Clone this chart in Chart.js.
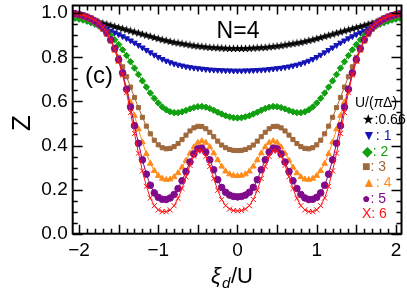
<!DOCTYPE html>
<html>
<head>
<meta charset="utf-8">
<script src="https://cdn.jsdelivr.net/npm/chart.js@4/dist/chart.umd.min.js"></script>
<style>
  body { margin: 0; background: #fff; }
  canvas { display: block; }
</style>
</head>
<body>
<canvas id="chart" width="407" height="293"></canvas>
<script>
// xi_d / U grid
const xs = [-2.1,-2.05,-2,-1.95,-1.9,-1.85,-1.8,-1.75,-1.7,-1.65,-1.6,-1.55,-1.5,-1.45,-1.4,-1.35,-1.3,-1.25,-1.2,-1.15,-1.1,-1.05,-1,-0.95,-0.9,-0.85,-0.8,-0.75,-0.7,-0.65,-0.6,-0.55,-0.5,-0.45,-0.4,-0.35,-0.3,-0.25,-0.2,-0.15,-0.1,-0.05,0,
  0.05,0.1,0.15,0.2,0.25,0.3,0.35,0.4,0.45,0.5,0.55,0.6,0.65,0.7,0.75,0.8,0.85,0.9,0.95,1,1.05,1.1,1.15,1.2,1.25,1.3,1.35,1.4,1.45,1.5,1.55,1.6,1.65,1.7,1.75,1.8,1.85,1.9,1.95,2,2.05,2.1];

// Z for U/(pi Delta) = 0.66, 1, 2, 3, 4, 5, 6
const z066 = [0.995,0.99,0.985,0.98,0.975,0.97,0.965,0.96,0.955,0.95,0.945,0.94,0.935,0.93,0.925,0.92,0.915,0.91,0.905,0.9,0.895,0.89,0.885,0.88,0.876,0.872,0.868,0.865,0.862,0.859,0.856,0.853,0.851,0.849,0.847,0.845,0.844,0.843,0.842,0.841,0.84,0.84,0.84,
  0.84,0.84,0.841,0.842,0.843,0.844,0.845,0.847,0.849,0.851,0.853,0.856,0.859,0.862,0.865,0.868,0.872,0.876,0.88,0.885,0.89,0.895,0.9,0.905,0.91,0.915,0.92,0.925,0.93,0.935,0.94,0.945,0.95,0.955,0.96,0.965,0.97,0.975,0.98,0.985,0.99,0.995];
const z1 = [0.99,0.985,0.978,0.972,0.965,0.958,0.951,0.944,0.936,0.928,0.92,0.912,0.904,0.895,0.886,0.876,0.866,0.855,0.844,0.833,0.822,0.811,0.801,0.792,0.784,0.777,0.771,0.766,0.762,0.758,0.755,0.752,0.75,0.748,0.746,0.744,0.743,0.742,0.741,0.74,0.74,0.739,0.739,
  0.739,0.74,0.74,0.741,0.742,0.743,0.744,0.746,0.748,0.75,0.752,0.755,0.758,0.762,0.766,0.771,0.777,0.784,0.792,0.801,0.811,0.822,0.833,0.844,0.855,0.866,0.876,0.886,0.895,0.904,0.912,0.92,0.928,0.936,0.944,0.951,0.958,0.965,0.972,0.978,0.985,0.99];
const z2 = [0.98,0.977,0.973,0.969,0.964,0.958,0.951,0.942,0.931,0.917,0.9,0.88,0.858,0.834,0.808,0.78,0.751,0.722,0.693,0.665,0.638,0.614,0.593,0.575,0.562,0.553,0.549,0.549,0.553,0.559,0.566,0.572,0.576,0.577,0.574,0.568,0.56,0.551,0.543,0.535,0.53,0.526,0.525,
  0.526,0.53,0.535,0.543,0.551,0.56,0.568,0.574,0.577,0.576,0.572,0.566,0.559,0.553,0.549,0.549,0.553,0.562,0.575,0.593,0.614,0.638,0.665,0.693,0.722,0.751,0.78,0.808,0.834,0.858,0.88,0.9,0.917,0.931,0.942,0.951,0.958,0.964,0.969,0.973,0.977,0.98];
const z3 = [0.995,0.992,0.988,0.983,0.977,0.969,0.958,0.944,0.926,0.903,0.874,0.84,0.8,0.757,0.712,0.665,0.618,0.572,0.528,0.488,0.453,0.424,0.403,0.39,0.385,0.387,0.395,0.409,0.427,0.447,0.466,0.48,0.487,0.486,0.476,0.46,0.44,0.42,0.402,0.39,0.382,0.378,0.377,
  0.378,0.382,0.39,0.402,0.42,0.44,0.46,0.476,0.486,0.487,0.48,0.466,0.447,0.427,0.409,0.395,0.387,0.385,0.39,0.403,0.424,0.453,0.488,0.528,0.572,0.618,0.665,0.712,0.757,0.8,0.84,0.874,0.903,0.926,0.944,0.958,0.969,0.977,0.983,0.988,0.992,0.995];
const z4 = [0.998,0.995,0.991,0.986,0.98,0.972,0.962,0.948,0.93,0.905,0.872,0.83,0.78,0.722,0.66,0.597,0.535,0.474,0.415,0.362,0.318,0.285,0.263,0.25,0.245,0.247,0.257,0.275,0.301,0.332,0.364,0.393,0.413,0.42,0.413,0.393,0.365,0.334,0.305,0.283,0.27,0.264,0.262,
  0.264,0.27,0.283,0.305,0.334,0.365,0.393,0.413,0.42,0.413,0.393,0.364,0.332,0.301,0.275,0.257,0.247,0.245,0.25,0.263,0.285,0.318,0.362,0.415,0.474,0.535,0.597,0.66,0.722,0.78,0.83,0.872,0.905,0.93,0.948,0.962,0.972,0.98,0.986,0.991,0.995,0.998];
const z5 = [1.0,0.998,0.994,0.989,0.983,0.975,0.965,0.952,0.935,0.912,0.88,0.84,0.79,0.73,0.655,0.575,0.49,0.41,0.335,0.27,0.22,0.185,0.165,0.156,0.155,0.162,0.178,0.205,0.24,0.282,0.325,0.362,0.385,0.388,0.37,0.335,0.29,0.245,0.21,0.188,0.175,0.169,0.167,
  0.169,0.175,0.188,0.21,0.245,0.29,0.335,0.37,0.388,0.385,0.362,0.325,0.282,0.24,0.205,0.178,0.162,0.155,0.156,0.165,0.185,0.22,0.27,0.335,0.41,0.49,0.575,0.655,0.73,0.79,0.84,0.88,0.912,0.935,0.952,0.965,0.975,0.983,0.989,0.994,0.998,1.0];
const z6 = [1.0,0.999,0.996,0.992,0.986,0.978,0.968,0.955,0.937,0.913,0.88,0.838,0.785,0.72,0.64,0.55,0.455,0.365,0.285,0.215,0.162,0.127,0.108,0.1,0.1,0.108,0.127,0.16,0.205,0.258,0.31,0.352,0.376,0.375,0.35,0.305,0.25,0.197,0.155,0.127,0.112,0.105,0.103,
  0.105,0.112,0.127,0.155,0.197,0.25,0.305,0.35,0.375,0.376,0.352,0.31,0.258,0.205,0.16,0.127,0.108,0.1,0.1,0.108,0.127,0.162,0.215,0.285,0.365,0.455,0.55,0.64,0.72,0.785,0.838,0.88,0.913,0.937,0.955,0.968,0.978,0.986,0.992,0.996,0.999,1.0];

const labels = ['\u2605:0.66', '\u25BC: 1', '\u25C6: 2', '\u25A0: 3', '\u25B2: 4', '\u25CF: 5', 'X: 6'];
const colors = ['#000000', '#1414b4', '#10a010', '#a0693c', '#ff8c1a', '#800a8c', '#ff1414'];
const xTicks = [-2, -1, 0, 1, 2];
const yTicks = [0, 0.2, 0.4, 0.6, 0.8, 1.0];

const FONT = '"Liberation Sans", Arial, "DejaVu Sans", sans-serif';

// filled five point star marker
function makeStar(color) {
  let c = document.createElement('canvas');
  c.width = 9; c.height = 9;
  let g = c.getContext('2d');
  g.fillStyle = color;
  g.beginPath();
  for (let i = 0; i < 10; i++) {
    let r = i % 2 ? 1.9 : 4.4;
    let a = -Math.PI / 2 + i * Math.PI / 5;
    g.lineTo(4.5 + r * Math.cos(a), 4.7 + r * Math.sin(a));
  }
  g.closePath();
  g.fill();
  return c;
}

const series = [z066, z1, z2, z3, z4, z5, z6];
const markers = [
  { pointStyle: makeStar('#000'), radius: 4.5, rotation: 0 },
  { pointStyle: 'triangle', radius: 3.2, rotation: 180 },
  { pointStyle: 'rectRot', radius: 3.2, rotation: 0 },
  { pointStyle: 'rect', radius: 2.9, rotation: 0 },
  { pointStyle: 'triangle', radius: 3.3, rotation: 0 },
  { pointStyle: 'circle', radius: 3.3, rotation: 0 },
  { pointStyle: 'crossRot', radius: 3.6, rotation: 0 }
];

const datasets = series.map((s, i) => ({
  label: labels[i],
  data: s.map((v, k) => ({ x: xs[k], y: v })),
  borderColor: colors[i],
  backgroundColor: colors[i],
  borderWidth: 1,
  pointStyle: markers[i].pointStyle,
  pointRadius: markers[i].radius,
  pointRotation: markers[i].rotation,
  pointBorderWidth: 1,
  tension: 0,
  order: series.length - 1 - i
}));

// inward ticks on all four sides plus the frame
const frameTicks = {
  id: 'frameTicks',
  afterDraw(chart) {
    let ctx = chart.ctx, a = chart.chartArea;
    let sx = chart.scales.x, sy = chart.scales.y;
    ctx.save();
    ctx.strokeStyle = '#000';
    ctx.lineWidth = 1.5;
    ctx.beginPath();
    for (let i = -21; i <= 21; i++) {
      let px = Math.round(sx.getPixelForValue(i / 10)) + 0.5;
      if (px < a.left || px > a.right) continue;
      let len = i % 5 === 0 ? 9 : 5;
      ctx.moveTo(px, a.bottom); ctx.lineTo(px, a.bottom - len);
      ctx.moveTo(px, a.top); ctx.lineTo(px, a.top + len);
    }
    for (let i = 0; i <= 20; i++) {
      let py = Math.round(sy.getPixelForValue(i / 20)) + 0.5;
      let len = i % 4 === 0 ? 10 : 5;
      ctx.moveTo(a.left, py); ctx.lineTo(a.left + len, py);
      ctx.moveTo(a.right, py); ctx.lineTo(a.right - len, py);
    }
    ctx.stroke();
    ctx.lineWidth = 2;
    ctx.strokeRect(a.left, a.top, a.right - a.left, a.bottom - a.top);
    ctx.restore();
  }
};

// titles, annotations and the in-plot legend
const texts = {
  id: 'texts',
  afterDraw(chart) {
    let ctx = chart.ctx;
    ctx.save();
    ctx.fillStyle = '#000';
    ctx.textBaseline = 'alphabetic';
    ctx.textAlign = 'left';

    ctx.font = '23px ' + FONT;
    ctx.textAlign = 'center';
    ctx.fillText('N=4', 238, 38);
    ctx.textAlign = 'left';
    ctx.font = '24px ' + FONT;
    ctx.fillText('(c)', 85, 83);

    // x title: xi_d / U
    ctx.font = 'italic 22px ' + FONT;
    ctx.fillText('\u03BE', 211, 283);
    ctx.font = 'italic 15px ' + FONT;
    ctx.fillText('d', 222, 288);
    ctx.font = '22px ' + FONT;
    ctx.fillText('/U', 231, 283);

    // y title
    ctx.save();
    ctx.translate(23, 123);
    ctx.rotate(-Math.PI / 2);
    ctx.font = '26px ' + FONT;
    ctx.textAlign = 'center';
    ctx.textBaseline = 'middle';
    ctx.fillText('Z', 0, 0);
    ctx.restore();

    // legend
    let x = 355;
    ctx.font = '14px ' + FONT;
    ctx.fillText('U/(', x, 107);
    x += ctx.measureText('U/(').width;
    ctx.font = 'italic 14px ' + FONT;
    ctx.fillText('\u03C0', x, 107);
    x += ctx.measureText('\u03C0').width;
    ctx.font = '14px ' + FONT;
    ctx.fillText('\u0394)', x, 107);

    const ys = [124, 140, 156, 171, 187, 203, 218];
    labels.forEach((t, i) => {
      ctx.fillStyle = colors[i];
      ctx.fillText(t, 362, ys[i]);
    });
    ctx.restore();
  }
};

new Chart(document.getElementById('chart'), {
  type: 'line',
  data: { datasets },
  options: {
    responsive: false,
    animation: false,
    devicePixelRatio: 1,
    layout: { padding: { top: 3.5, right: 3, left: 0, bottom: 0 } },
    plugins: { legend: { display: false }, tooltip: { enabled: false } },
    scales: {
      x: {
        type: 'linear',
        min: -2.08,
        max: 2.07,
        grid: { display: false, drawTicks: false },
        border: { display: false },
        ticks: {
          color: '#000',
          font: { family: FONT, size: 19 },
          padding: 6,
          maxRotation: 0,
          callback: v => v < 0 ? '\u2212' + Math.abs(v) : String(v)
        },
        afterBuildTicks: s => { s.ticks = xTicks.map(v => ({ value: v })); },
        afterFit: s => { s.height = 59.3; s.paddingLeft = 0; s.paddingRight = 0; }
      },
      y: {
        min: 0,
        max: 1.035,
        grid: { display: false, drawTicks: false },
        border: { display: false },
        ticks: {
          color: '#000',
          font: { family: FONT, size: 19 },
          padding: 5,
          callback: v => v.toFixed(1)
        },
        afterBuildTicks: s => { s.ticks = yTicks.map(v => ({ value: v })); },
        afterFit: s => { s.width = 72.7; s.paddingTop = 0; s.paddingBottom = 0; }
      }
    }
  },
  plugins: [frameTicks, texts]
});
</script>
</body>
</html>
